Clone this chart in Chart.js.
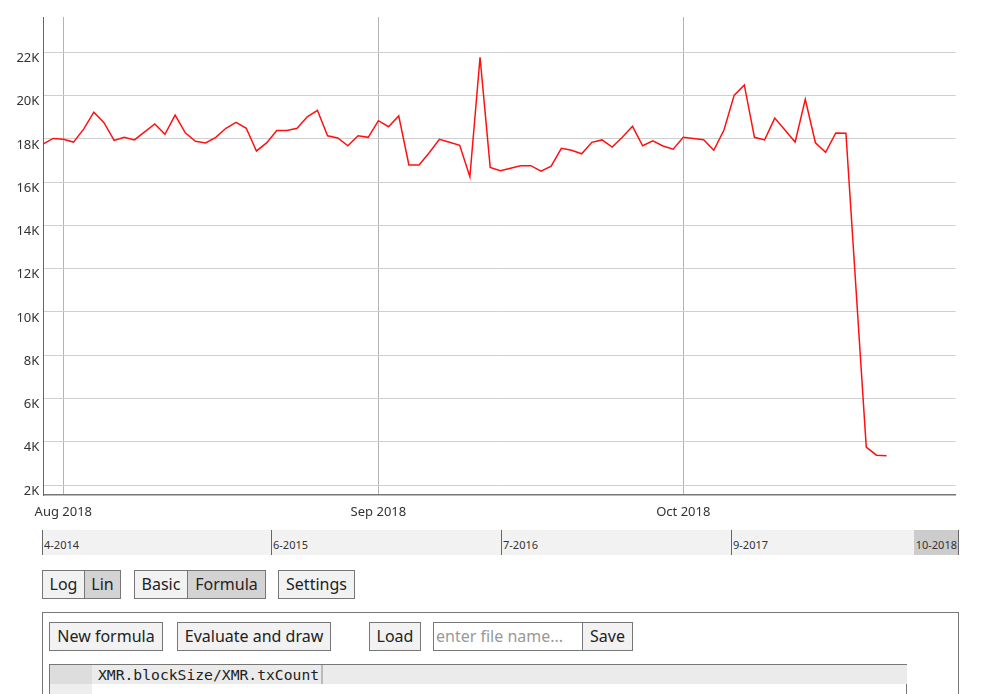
<!DOCTYPE html>
<html>

<head>
    <meta charset="UTF-8">
    <title>XMR.blockSize/XMR.txCount</title>
    <script src="https://cdn.jsdelivr.net/npm/chart.js@4"></script>
    <style>
        body { margin: 0; background: #fff; font-family: "Noto Sans", sans-serif; color: #222; }
        #wrap { position: absolute; left: 0; top: 0; width: 981px; height: 525px; }
        .abs { position: absolute; box-sizing: border-box; }
        .btn { position: absolute; box-sizing: border-box; height: 29px; border: 1px solid #777; background: #f2f2f2;
               font-size: 16px; line-height: 26px; text-align: center; color: #222; white-space: nowrap; }
        .sel { background: #d3d3d3; }
        .join { border-left: none; }
        #range { left: 42px; top: 530px; width: 917px; height: 25px; background: #f2f2f2; }
        .rlab { position: absolute; box-sizing: border-box; top: 0; height: 25px; border-left: 1px solid #666; font-size: 11px;
                line-height: 29px; padding-left: 1px; color: #333; }
        #panel { left: 42px; top: 612px; width: 917px; height: 120px; border: 1px solid #777; }
        #editor { left: 49px; top: 664px; width: 858px; height: 60px; border-top: 1px solid #777; border-left: 1px solid #777; border-right: 1px solid #777; }
    </style>
</head>

<body>
    <div id="wrap"><canvas id="chart" width="981" height="525"></canvas></div>

    <div id="range" class="abs"></div>

    <div class="btn" style="left:42px;top:570px;width:43px;">Log</div>
    <div class="btn sel join" style="left:85px;top:570px;width:36px;">Lin</div>
    <div class="btn" style="left:134px;top:570px;width:54px;">Basic</div>
    <div class="btn sel join" style="left:188px;top:570px;width:78px;">Formula</div>
    <div class="btn" style="left:278px;top:570px;width:77px;">Settings</div>

    <div id="panel" class="abs"></div>
    <div class="btn" style="left:49px;top:622px;width:114px;">New formula</div>
    <div class="btn" style="left:177px;top:622px;width:154px;">Evaluate and draw</div>
    <div class="btn" style="left:369px;top:622px;width:52px;">Load</div>
    <div class="btn" style="left:433px;top:622px;width:150px;background:#fff;text-align:left;padding-left:2px;color:#999;">enter file name...</div>
    <div class="btn join" style="left:583px;top:622px;width:50px;">Save</div>

    <div id="editor" class="abs">
        <div class="abs" style="left:0;top:0;width:42px;height:19px;background:#ddd;"></div>
        <div class="abs" style="left:0;top:19px;width:42px;height:60px;background:#eee;"></div>
        <div class="abs" style="left:42px;top:0;width:815px;height:19px;background:#ebebeb;"></div>
        <div class="abs" style="left:48px;top:0;height:19px;font-family:'DejaVu Sans Mono',monospace;font-size:14.7px;line-height:19px;color:#222;">XMR.blockSize/XMR.txCount</div>
        <div class="abs" style="left:271px;top:0;width:2px;height:19px;background:#bbb;"></div>
    </div>

    <script>
        // XMR average tx size (bytes), one point per day
        const dates = [
            "2018-07-30", "2018-07-31",
            "2018-08-01", "2018-08-02", "2018-08-03", "2018-08-04", "2018-08-05", "2018-08-06", "2018-08-07", "2018-08-08",
            "2018-08-09", "2018-08-10", "2018-08-11", "2018-08-12", "2018-08-13", "2018-08-14", "2018-08-15", "2018-08-16",
            "2018-08-17", "2018-08-18", "2018-08-19", "2018-08-20", "2018-08-21", "2018-08-22", "2018-08-23", "2018-08-24",
            "2018-08-25", "2018-08-26", "2018-08-27", "2018-08-28", "2018-08-29", "2018-08-30", "2018-08-31",
            "2018-09-01", "2018-09-02", "2018-09-03", "2018-09-04", "2018-09-05", "2018-09-06", "2018-09-07", "2018-09-08",
            "2018-09-09", "2018-09-10", "2018-09-11", "2018-09-12", "2018-09-13", "2018-09-14", "2018-09-15", "2018-09-16",
            "2018-09-17", "2018-09-18", "2018-09-19", "2018-09-20", "2018-09-21", "2018-09-22", "2018-09-23", "2018-09-24",
            "2018-09-25", "2018-09-26", "2018-09-27", "2018-09-28", "2018-09-29", "2018-09-30",
            "2018-10-01", "2018-10-02", "2018-10-03", "2018-10-04", "2018-10-05", "2018-10-06", "2018-10-07", "2018-10-08",
            "2018-10-09", "2018-10-10", "2018-10-11", "2018-10-12", "2018-10-13", "2018-10-14", "2018-10-15", "2018-10-16",
            "2018-10-17", "2018-10-19", "2018-10-20", "2018-10-21"
        ];

        const values = [
            17760, 18020,
            17980, 17850, 18450, 19230, 18750, 17930, 18070, 17950,
            18320, 18690, 18210, 19100, 18280, 17890, 17810, 18070,
            18490, 18760, 18490, 17440, 17810, 18390, 18390, 18490,
            19020, 19320, 18140, 18040, 17680, 18140, 18070,
            18840, 18560, 19060, 16790, 16790, 17360, 17980, 17840,
            17700, 16250, 21770, 16680, 16530, 16640, 16760, 16760,
            16510, 16740, 17560, 17470, 17310, 17840, 17950, 17620,
            18070, 18580, 17680, 17910, 17670, 17520,
            18070, 18020, 17960, 17470, 18410, 20010, 20490, 18070,
            17950, 18960, 18410, 17850, 19830, 17820, 17380, 18270,
            18260, 3750, 3380, 3350
        ];

        const monthTicks = ["2018-08-01", "2018-09-01", "2018-10-01"];
        const monthLabels = ["Aug 2018", "Sep 2018", "Oct 2018"];
        const yTicks = [2000, 4000, 6000, 8000, 10000, 12000, 14000, 16000, 18000, 20000, 22000];

        const rangeLabels = ["4-2014", "6-2015", "7-2016", "9-2017"];

        const dayMs = 86400000;
        const origin = Date.parse("2018-08-01");
        const toDay = d => (Date.parse(d) - origin) / dayMs;

        // range selector strip under the chart
        const range = document.getElementById("range");
        const rangeLeft = [0, 229, 459, 689];
        rangeLabels.forEach((t, i) => {
            const el = document.createElement("div");
            el.className = "rlab";
            el.style.left = rangeLeft[i] + "px";
            el.textContent = t;
            range.appendChild(el);
        });
        const last = document.createElement("div");
        last.className = "rlab";
        last.style.cssText = "left:872px;width:45px;background:#ccc;border-left:none;border-right:1px solid #666;text-align:right;padding-right:1px;";
        last.textContent = "10-2018";
        range.appendChild(last);

        Chart.defaults.font.family = "'Noto Sans', sans-serif";
        Chart.defaults.font.size = 13;
        Chart.defaults.color = "#333";

        const ctx = document.getElementById("chart").getContext("2d");

        new Chart(ctx, {
            type: "line",
            data: {
                datasets: [{
                    label: "XMR.blockSize/XMR.txCount",
                    data: dates.map((d, i) => ({ x: toDay(d), y: values[i] })),
                    borderColor: "#ff1010",
                    borderWidth: 1.5,
                    pointRadius: 0,
                    tension: 0,
                    fill: false
                }]
            },
            options: {
                responsive: false,
                animation: false,
                layout: { padding: { top: 17, right: 25.3, left: 0, bottom: 0 } },
                plugins: {
                    legend: { display: false },
                    tooltip: { enabled: false }
                },
                scales: {
                    x: {
                        type: "linear",
                        min: -1.97,
                        max: 87.8,
                        afterBuildTicks: s => { s.ticks = monthTicks.map(d => ({ value: toDay(d) })); },
                        afterFit: s => { s.height = 30; },
                        ticks: {
                            autoSkip: false,
                            maxRotation: 0,
                            padding: 9,
                            callback: (v, i) => monthLabels[i]
                        },
                        grid: { color: "#b4b4b4", lineWidth: 1, drawTicks: false },
                        border: { color: "#777", width: 1.5 }
                    },
                    y: {
                        min: 1538,
                        max: 23632,
                        afterBuildTicks: s => { s.ticks = yTicks.map(v => ({ value: v })); },
                        afterFit: s => { s.width = 43.3; },
                        ticks: {
                            padding: 4,
                            labelOffset: 6,
                            callback: v => (v / 1000) + "K"
                        },
                        grid: { color: "#cfcfcf", lineWidth: 1, drawTicks: false },
                        border: { color: "#666", width: 1 }
                    }
                }
            }
        });
    </script>
</body>

</html>
